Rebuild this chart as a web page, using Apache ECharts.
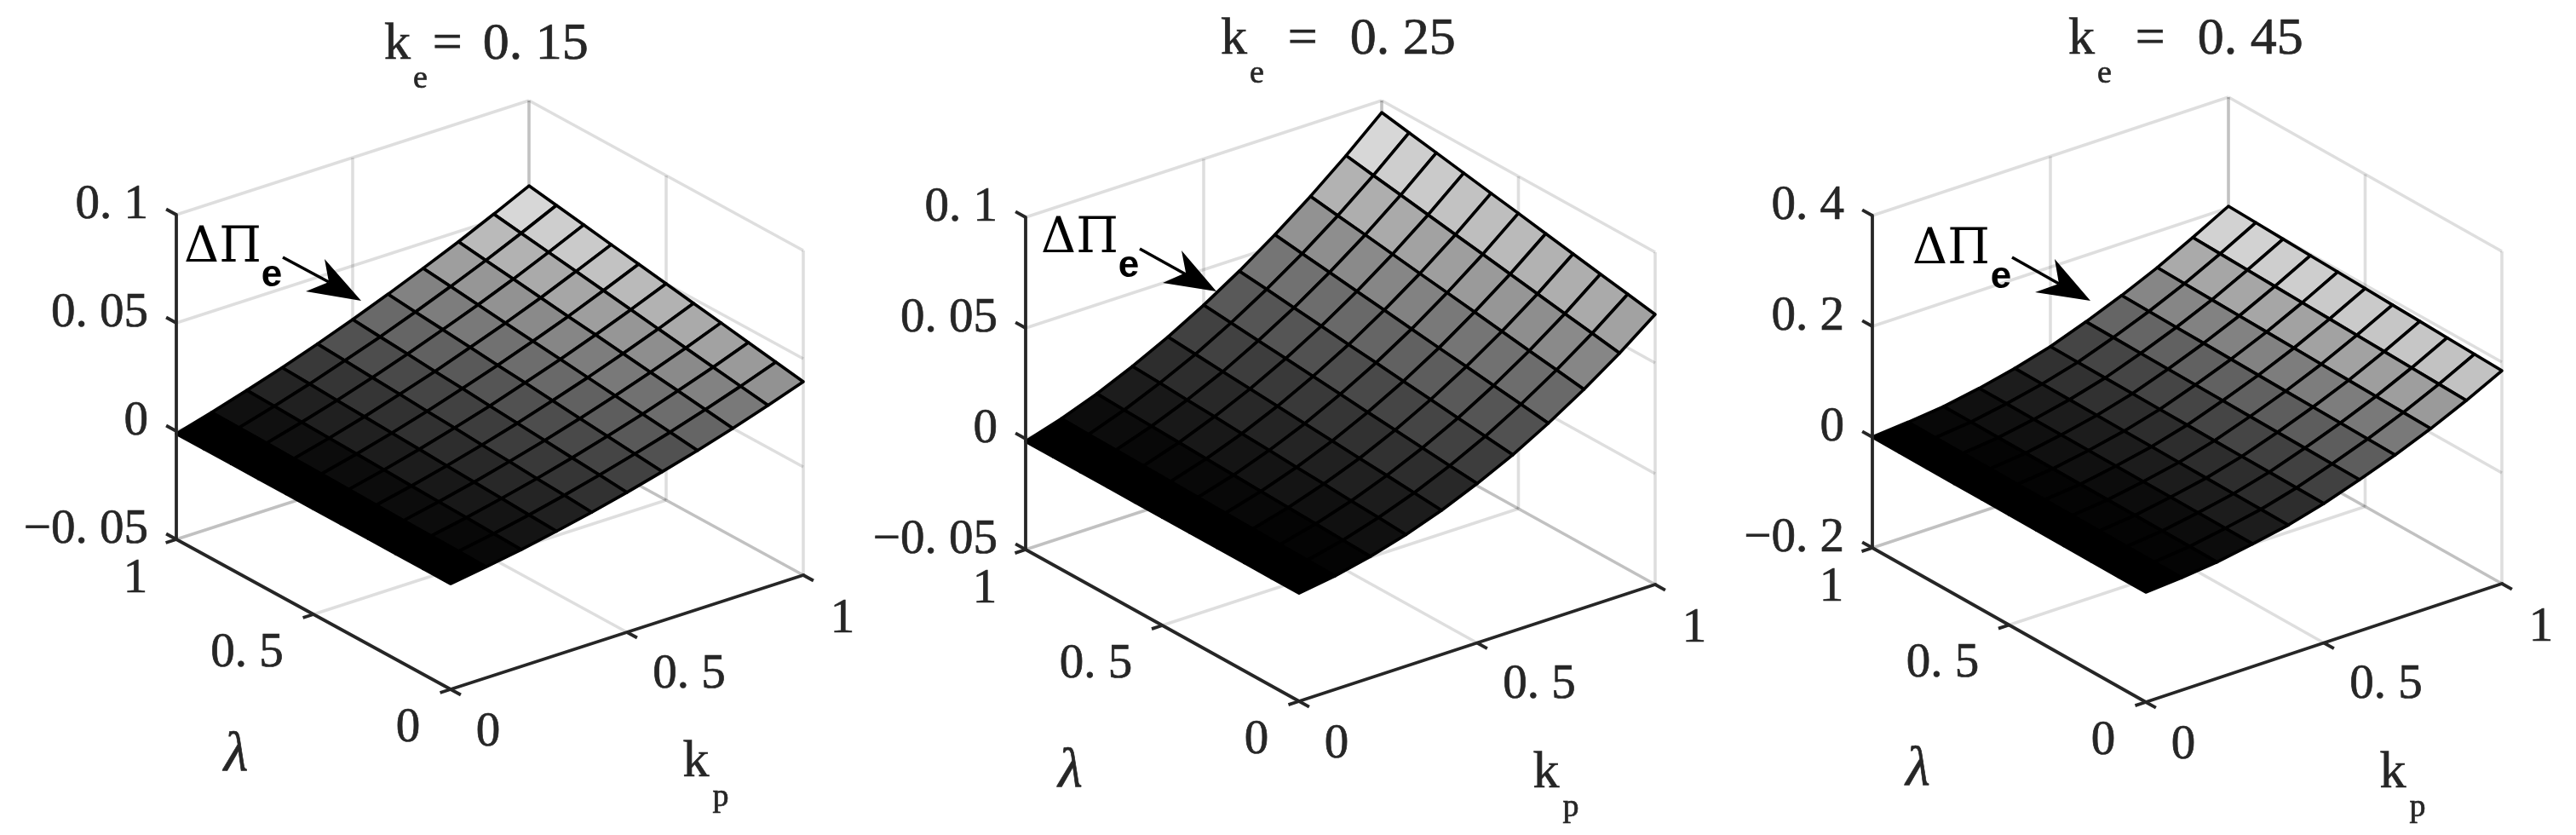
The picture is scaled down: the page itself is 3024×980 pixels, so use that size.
<!DOCTYPE html>
<html>
<head>
<meta charset="utf-8">
<style>html,body{margin:0;padding:0;background:#fff}#c{width:3024px;height:980px}</style>
<script src="https://cdn.jsdelivr.net/npm/echarts@6/dist/echarts.min.js"></script>
</head>
<body>
<div id="c"></div>
<script>
// ---- data ----
const kpGrid = [0, 0.1, 0.2, 0.3, 0.4, 0.5, 0.6, 0.7, 0.8, 0.9, 1];
const lambdaGrid = [0, 0.1, 0.2, 0.3, 0.4, 0.5, 0.6, 0.7, 0.8, 0.9, 1];
const kpTicks = [0, 0.5, 1];
const lambdaTicks = [0, 0.5, 1];
const kpTickLabels = ['0', '0. 5', '1'];
const lambdaTickLabels = ['0', '0. 5', '1'];
const zTicks015 = [-0.05, 0, 0.05, 0.1];
const zTicks025 = [-0.05, 0, 0.05, 0.1];
const zTicks045 = [-0.2, 0, 0.2, 0.4];
const zTickLabels015 = ['\u22120. 05', '0', '0. 05', '0. 1'];
const zTickLabels025 = ['\u22120. 05', '0', '0. 05', '0. 1'];
const zTickLabels045 = ['\u22120. 2', '0', '0. 2', '0. 4'];
// rows: kp = 0..1, columns: lambda = 0..1
const surface015 = [
[-.0012,-.0012,-.0012,-.0012,-.0012,-.0012,-.0012,-.0012,-.0012,-.0012,-.0012],
[.0013,.0015,.0017,.0019,.0021,.0024,.0026,.0028,.0030,.0032,.0034],
[.0040,.0044,.0049,.0053,.0057,.0062,.0066,.0070,.0074,.0079,.0083],
[.0072,.0078,.0085,.0091,.0097,.0104,.0110,.0116,.0122,.0129,.0135],
[.0107,.0116,.0124,.0133,.0141,.0150,.0158,.0167,.0175,.0184,.0192],
[.0146,.0157,.0167,.0178,.0188,.0199,.0210,.0220,.0231,.0241,.0252],
[.0189,.0202,.0214,.0227,.0240,.0253,.0265,.0278,.0291,.0303,.0316],
[.0234,.0249,.0264,.0279,.0294,.0309,.0323,.0338,.0353,.0368,.0383],
[.0284,.0301,.0318,.0335,.0352,.0369,.0385,.0402,.0419,.0436,.0453],
[.0337,.0356,.0375,.0394,.0413,.0433,.0452,.0471,.0490,.0509,.0528],
[.0394,.0415,.0436,.0458,.0479,.0500,.0521,.0542,.0564,.0585,.0606]];
const surface025 = [
[-.0012,-.0012,-.0012,-.0012,-.0012,-.0012,-.0012,-.0012,-.0012,-.0012,-.0012],
[.0012,.0015,.0017,.0020,.0022,.0025,.0028,.0030,.0033,.0035,.0038],
[.0048,.0053,.0058,.0063,.0068,.0073,.0078,.0083,.0088,.0093,.0098],
[.0094,.0102,.0109,.0117,.0124,.0132,.0139,.0147,.0154,.0162,.0169],
[.0151,.0161,.0171,.0180,.0190,.0200,.0210,.0220,.0229,.0239,.0249],
[.0219,.0231,.0243,.0255,.0267,.0280,.0292,.0304,.0316,.0328,.0340],
[.0296,.0311,.0325,.0340,.0354,.0369,.0383,.0398,.0412,.0427,.0441],
[.0386,.0403,.0419,.0436,.0452,.0469,.0486,.0502,.0519,.0535,.0552],
[.0486,.0505,.0523,.0542,.0561,.0580,.0598,.0617,.0636,.0654,.0673],
[.0597,.0618,.0638,.0659,.0680,.0701,.0721,.0742,.0763,.0783,.0804],
[.0719,.0742,.0764,.0787,.0810,.0833,.0855,.0878,.0901,.0923,.0946]];
const surface045 = [
[-.0015,-.0014,-.0012,-.0011,-.0009,-.0008,-.0006,-.0005,-.0003,-.0002,0],
[.0032,.0034,.0037,.0039,.0041,.0044,.0046,.0048,.0050,.0053,.0055],
[.0100,.0103,.0105,.0108,.0110,.0113,.0115,.0118,.0120,.0123,.0125],
[.0215,.0218,.0220,.0223,.0225,.0228,.0230,.0233,.0235,.0238,.0240],
[.0340,.0345,.0349,.0354,.0358,.0363,.0367,.0372,.0376,.0381,.0385],
[.0515,.0520,.0525,.0530,.0535,.0540,.0545,.0550,.0555,.0560,.0565],
[.0732,.0739,.0746,.0752,.0759,.0766,.0773,.0780,.0786,.0793,.0800],
[.0965,.0975,.0984,.0994,.1003,.1013,.1022,.1032,.1041,.1051,.1060],
[.1227,.1239,.1252,.1264,.1276,.1289,.1301,.1313,.1325,.1338,.1350],
[.1521,.1537,.1553,.1569,.1585,.1601,.1616,.1632,.1648,.1664,.1680],
[.1845,.1864,.1882,.1901,.1919,.1938,.1957,.1975,.1994,.2012,.2031]];

// ---- layout ----
const SERIF = '"Liberation Serif","Times New Roman",serif';
const SANS = '"Liberation Sans",Arial,sans-serif';
const GREEK = '"DejaVu Serif",serif';
const INK = '#262626';
const panels = [
 {z: surface015, zTicks: zTicks015, zLabels: zTickLabels015, left: 0, width: 1010,
  o: [529,809], kp: [414,-134], lam: [-322,-176], h: 381, lamName: [-91,166],
  title: {left: 451, top: 22, val: '0. 15', eqPad: 6, valPad: 24},
  delta: [216,292], e: [319,328],
  tail: [[332,302],[386,331]], head: [[424,353],[381,304],[386,331],[359,342]]},
 {z: surface025, zTicks: zTicks025, zLabels: zTickLabels025, left: 1010, width: 1020,
  o: [1525,823], kp: [418,-137], lam: [-321,-178], h: 390, lamName: [-108,172],
  title: {left: 1433, top: 16, val: '0. 25', eqPad: 28, valPad: 38},
  delta: [1222,281], e: [1325,317],
  tail: [[1338,292],[1392,322]], head: [[1428,342],[1387,294],[1392,320],[1365,332]]},
 {z: surface045, zTicks: zTicks045, zLabels: zTickLabels045, left: 2030, width: 994,
  o: [2519,824], kp: [418,-139], lam: [-321,-181], h: 390, lamName: [-107,170],
  title: {left: 2428, top: 16, val: '0. 45', eqPad: 28, valPad: 38},
  delta: [2245,294], e: [2349,330],
  tail: [[2362,302],[2417,333]], head: [[2454,353],[2412,304],[2417,333],[2389,343]]}
];

function project(p, kp, lam, z) {
  const zMin = p.zTicks[0], zMax = p.zTicks[p.zTicks.length - 1];
  const t = (z - zMin) / (zMax - zMin);
  return [p.o[0] + kp * p.kp[0] + lam * p.lam[0],
          p.o[1] + kp * p.kp[1] + lam * p.lam[1] - t * p.h];
}
function faceColor(p, z) {
  const flat = p.z.flat();
  const lo = Math.min.apply(null, flat), hi = Math.max.apply(null, flat);
  const idx = Math.min(63, Math.floor((z - lo) / (hi - lo) * 64));
  const g = Math.round(idx / 63 * 255);
  return 'rgb(' + g + ',' + g + ',' + g + ')';
}

// segments: [kp0, lam0, z0, kp1, lam1, z1]
function backSegments(p) {
  const zMin = p.zTicks[0], zMax = p.zTicks[p.zTicks.length - 1];
  const s = [];
  p.zTicks.forEach(z => { s.push([0,1,z,1,1,z]); s.push([1,1,z,1,0,z]); });
  s.push([kpTicks[1],1,zMin,kpTicks[1],1,zMax]);
  s.push([1,lambdaTicks[1],zMin,1,lambdaTicks[1],zMax]);
  s.push([kpTicks[1],0,zMin,kpTicks[1],1,zMin]);
  s.push([0,lambdaTicks[1],zMin,1,lambdaTicks[1],zMin]);
  s.push([1,0,zMin,1,0,zMax]);
  s.push([1,1,zMin,1,1,zMax]); s.push([1,1,zMin,1,1,zMax]);
  s.push([0,1,zMin,1,1,zMin]); s.push([1,0,zMin,1,1,zMin]);
  return s;
}
function axisSegments(p) {
  const zMin = p.zTicks[0], zMax = p.zTicks[p.zTicks.length - 1];
  return [[0,1,zMin,0,1,zMax],[0,0,zMin,1,0,zMin],[0,0,zMin,0,1,zMin]];
}

const series = [], grid = [], xAxis = [], yAxis = [], title = [], graphic = [];
panels.forEach((p, n) => {
  grid.push({left: p.left, top: 0, width: p.width, height: 980, show: false});
  xAxis.push({type: 'value', gridIndex: n, min: p.left, max: p.left + p.width, show: false});
  yAxis.push({type: 'value', gridIndex: n, min: 0, max: 980, inverse: true, show: false});
  const base = {type: 'custom', xAxisIndex: n, yAxisIndex: n, clip: false, silent: true, animation: false};
  const zMin = p.zTicks[0];

  // walls and floor grid
  series.push(Object.assign({}, base, {z: 1, data: backSegments(p),
    renderItem: (params, api) => {
      const a = api.coord(project(p, api.value(0), api.value(1), api.value(2)));
      const b = api.coord(project(p, api.value(3), api.value(4), api.value(5)));
      return {type: 'line', shape: {x1:a[0],y1:a[1],x2:b[0],y2:b[1]},
              style: {stroke: 'rgba(0,0,0,0.13)', lineWidth: 3.6, fill: null}};
    }}));

  // surface cells
  const cells = [];
  for (let i = kpGrid.length - 2; i >= 0; i--)
    for (let j = lambdaGrid.length - 2; j >= 0; j--) cells.push([i, j]);
  series.push(Object.assign({}, base, {z: 2, data: cells,
    renderItem: (params, api) => {
      const i = api.value(0), j = api.value(1);
      const pt = (a, b) => api.coord(project(p, kpGrid[a], lambdaGrid[b], p.z[a][b]));
      return {type: 'polygon',
        shape: {points: [pt(i,j), pt(i+1,j), pt(i+1,j+1), pt(i,j+1)]},
        style: {fill: faceColor(p, p.z[i][j]), stroke: '#000', lineWidth: 3.6, lineJoin: 'round'}};
    }}));

  // axes lines and ticks
  const tickSegs = [];
  p.zTicks.forEach(z => tickSegs.push({from: [0,1,z], d: [p.lam[0]*0.037, p.lam[1]*0.037]}));
  kpTicks.forEach(k => tickSegs.push({from: [k,0,zMin], d: [-p.lam[0]*0.037, -p.lam[1]*0.037]}));
  lambdaTicks.forEach(l => tickSegs.push({from: [0,l,zMin], d: [-p.kp[0]*0.03, -p.kp[1]*0.03]}));
  series.push(Object.assign({}, base, {z: 3, data: axisSegments(p),
    renderItem: (params, api) => {
      const a = api.coord(project(p, api.value(0), api.value(1), api.value(2)));
      const b = api.coord(project(p, api.value(3), api.value(4), api.value(5)));
      return {type: 'line', shape: {x1:a[0],y1:a[1],x2:b[0],y2:b[1]},
              style: {stroke: INK, lineWidth: 3.8, lineCap: 'round'}};
    }}));
  series.push(Object.assign({}, base, {z: 3, data: tickSegs.map(t => t.from.concat(t.d)),
    renderItem: (params, api) => {
      const a = api.coord(project(p, api.value(0), api.value(1), api.value(2)));
      return {type: 'line', shape: {x1:a[0],y1:a[1],x2:a[0]+api.value(3),y2:a[1]+api.value(4)},
              style: {stroke: INK, lineWidth: 3.8}};
    }}));

  // tick labels and axis names
  const labels = [];
  const kpOff = [[44,51],[73,50],[46,52]];
  const lamOff = [[-50,46],[-78,46],[-48,47]];
  kpTicks.forEach((k,i) => labels.push({t: kpTickLabels[i], at: [k,0,zMin], off: kpOff[i], size: 57, align: 'center'}));
  lambdaTicks.forEach((l,i) => labels.push({t: lambdaTickLabels[i], at: [0,l,zMin], off: lamOff[i], size: 57, align: 'center'}));
  p.zTicks.forEach((z,i) => labels.push({t: p.zLabels[i], at: [0,1,z], off: [-33,-11], size: 57, align: 'right'}));
  labels.push({t: 'k', at: [kpTicks[1],0,zMin], off: [81,153], size: 62, align: 'center'});
  labels.push({t: 'p', at: [kpTicks[1],0,zMin], off: [110,194], size: 38, align: 'center'});
  labels.push({t: '\u03bb', at: [0,lambdaTicks[1],zMin], off: p.lamName, size: 66, align: 'center', italic: true});
  series.push(Object.assign({}, base, {z: 4, data: labels.map((l,i) => [i, 0]),
    renderItem: (params, api) => {
      const l = labels[api.value(0)];
      const a = api.coord(project(p, l.at[0], l.at[1], l.at[2]));
      return {type: 'text', style: {text: l.t, x: a[0]+l.off[0], y: a[1]+l.off[1], fill: INK,
        stroke: INK, lineWidth: 0.7,
        fontSize: l.size, fontFamily: SERIF, fontStyle: l.italic ? 'italic' : 'normal',
        align: l.align, verticalAlign: 'middle'}};
    }}));

  // panel title
  const tok = {fontFamily: SERIF, fontWeight: 'normal', color: INK, textBorderColor: INK, textBorderWidth: 0.7};
  title.push({left: p.title.left, top: p.title.top, padding: 0,
    text: '{k|k}{e|e}{q|=}{v|' + p.title.val + '}',
    textStyle: {color: INK, fontWeight: 'normal', rich: {
      k: Object.assign({}, tok, {fontSize: 62, lineHeight: 62, height: 62, verticalAlign: 'top'}),
      e: Object.assign({}, tok, {fontSize: 38, lineHeight: 90, verticalAlign: 'bottom', padding: [0,0,0,3]}),
      q: Object.assign({}, tok, {fontSize: 62, lineHeight: 62, height: 62, verticalAlign: 'top', padding: [0,0,0,p.title.eqPad]}),
      v: Object.assign({}, tok, {fontSize: 62, lineHeight: 62, height: 62, verticalAlign: 'top', padding: [0,0,0,p.title.valPad]})
    }}});

  // annotation: ΔΠe with arrow
  graphic.push({type: 'text', silent: true, style: {text: '\u0394\u03a0', x: p.delta[0], y: p.delta[1],
    fontFamily: GREEK, fontSize: 57, fill: '#000', align: 'left', verticalAlign: 'middle'}});
  graphic.push({type: 'text', silent: true, style: {text: 'e', x: p.e[0], y: p.e[1] - 4,
    fontFamily: SANS, fontWeight: 'bold', fontSize: 44, fill: '#000', align: 'center', verticalAlign: 'middle'}});
  graphic.push({type: 'line', silent: true, shape: {x1: p.tail[0][0], y1: p.tail[0][1], x2: p.tail[1][0], y2: p.tail[1][1]},
    style: {stroke: '#000', lineWidth: 3.6}});
  graphic.push({type: 'polygon', silent: true, shape: {points: p.head}, style: {fill: '#000'}});
});

const chart = echarts.init(document.getElementById('c'), null, {renderer: 'canvas', width: 3024, height: 980});
chart.setOption({animation: false, backgroundColor: '#fff', title, grid, xAxis, yAxis, series, graphic});
</script>
</body>
</html>
